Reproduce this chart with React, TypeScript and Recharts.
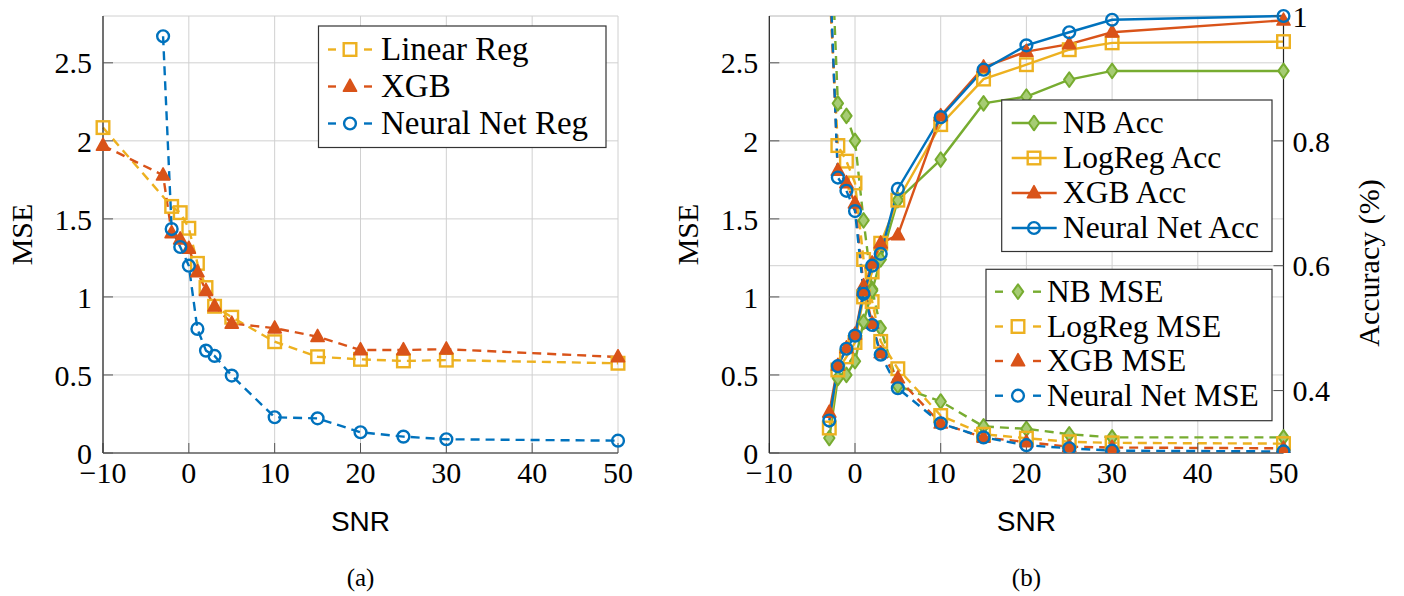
import React from 'react';
import { LineChart, Line, XAxis, YAxis, CartesianGrid, Legend, Label } from 'recharts';

const BLUE = '#0072BD';
const RED = '#D95319';
const YELLOW = '#EDB120';
const GREEN = '#77AC30';

const SERIF = '"Liberation Serif", "Times New Roman", serif';
const SANS = '"Liberation Sans", Arial, sans-serif';

// ---------- (a) regression MSE ----------
const snrLinearReg = [-10, -2, -1, 0, 1, 2, 3, 5, 10, 15, 20, 25, 30, 50];
const mseLinearReg = [2.085, 1.58, 1.54, 1.44, 1.215, 1.06, 0.94, 0.87, 0.713, 0.617, 0.6, 0.59, 0.595, 0.575];
const snrXgbReg = [-10, -3, -2, -1, 0, 1, 2, 3, 5, 10, 15, 20, 25, 30, 50];
const mseXgbReg = [1.97, 1.78, 1.41, 1.37, 1.31, 1.16, 1.04, 0.94, 0.83, 0.8, 0.745, 0.66, 0.66, 0.665, 0.615];
const snrNeuralReg = [-3, -2, -1, 0, 1, 2, 3, 5, 10, 15, 20, 25, 30, 50];
const mseNeuralReg = [2.67, 1.435, 1.32, 1.2, 0.795, 0.656, 0.622, 0.496, 0.229, 0.222, 0.133, 0.105, 0.088, 0.079];

// ---------- (b) classification ----------
const snrClass = [-3, -2, -1, 0, 1, 2, 3, 5, 10, 15, 20, 25, 30, 50];
const accNB = [0.324, 0.42, 0.425, 0.447, 0.51, 0.56, 0.61, 0.705, 0.77, 0.86, 0.871, 0.898, 0.912, 0.912];
const accLogReg = [0.34, 0.433, 0.454, 0.477, 0.55, 0.59, 0.636, 0.705, 0.826, 0.899, 0.922, 0.946, 0.957, 0.959];
const accXgb = [0.365, 0.44, 0.468, 0.49, 0.56, 0.604, 0.636, 0.649, 0.84, 0.918, 0.943, 0.955, 0.974, 0.993];
const accNeural = [0.352, 0.439, 0.467, 0.488, 0.555, 0.6, 0.619, 0.723, 0.838, 0.914, 0.953, 0.974, 0.994, 1.0];
const mseNB = [3.6, 2.24, 2.16, 2.0, 1.49, 1.05, 0.8, 0.43, 0.33, 0.17, 0.155, 0.12, 0.1, 0.1];
const mseLogReg = [3.0, 1.97, 1.87, 1.73, 1.24, 0.97, 0.715, 0.54, 0.24, 0.12, 0.095, 0.072, 0.065, 0.06];
const mseXgb = [3.1, 1.81, 1.73, 1.6, 1.07, 0.83, 0.64, 0.48, 0.19, 0.1, 0.07, 0.04, 0.035, 0.03];
const mseNeural = [3.2, 1.765, 1.68, 1.55, 1.03, 0.82, 0.63, 0.415, 0.19, 0.1, 0.05, 0.03, 0.015, 0.01];

// ---------- ticks ----------
const snrTicks = [-10, 0, 10, 20, 30, 40, 50];
const mseTicks = [0, 0.5, 1, 1.5, 2, 2.5];
const accTicks = [0.4, 0.6, 0.8, 1];

const toPoints = (xs: number[], ys: number[]) => xs.map((x, i) => ({ snr: x, v: ys[i] }));
const fmt = (v: number) => (v < 0 ? '\u2212' + Math.abs(v) : String(v));

type MarkerProps = { cx?: number; cy?: number; shape: string; color: string; r?: number; strokeWidth?: number };
const Marker = (p: MarkerProps) => {
  const { cx, cy, shape, color } = p;
  if (cx == null || cy == null || isNaN(cx) || isNaN(cy)) return null;
  const sw = 2.4;
  if (shape === 'square')
    return <rect x={cx - 6.3} y={cy - 6.3} width={12.6} height={12.6} fill="none" stroke={color} strokeWidth={sw} />;
  if (shape === 'circle') return <circle cx={cx} cy={cy} r={5.9} fill="none" stroke={color} strokeWidth={sw} />;
  if (shape === 'triangle')
    return (
      <polygon
        points={`${cx},${cy - 7.3} ${cx + 6.6},${cy + 4.7} ${cx - 6.6},${cy + 4.7}`}
        fill={color}
        stroke={color}
        strokeWidth={1.6}
        strokeLinejoin="round"
      />
    );
  return (
    <polygon
      points={`${cx},${cy - 7.3} ${cx + 5.2},${cy} ${cx},${cy + 7.3} ${cx - 5.2},${cy}`}
      fill="#a6cc74"
      stroke={color}
      strokeWidth={2}
      strokeLinejoin="round"
    />
  );
};

type Series = { name: string; xs: number[]; ys: number[]; color: string; shape: string; dashed: boolean; axis: string };

const seriesA: Series[] = [
  { name: 'Linear Reg', xs: snrLinearReg, ys: mseLinearReg, color: YELLOW, shape: 'square', dashed: true, axis: 'l' },
  { name: 'XGB', xs: snrXgbReg, ys: mseXgbReg, color: RED, shape: 'triangle', dashed: true, axis: 'l' },
  { name: 'Neural Net Reg', xs: snrNeuralReg, ys: mseNeuralReg, color: BLUE, shape: 'circle', dashed: true, axis: 'l' },
];

const seriesBAcc: Series[] = [
  { name: 'NB Acc', xs: snrClass, ys: accNB, color: GREEN, shape: 'diamond', dashed: false, axis: 'r' },
  { name: 'LogReg Acc', xs: snrClass, ys: accLogReg, color: YELLOW, shape: 'square', dashed: false, axis: 'r' },
  { name: 'XGB Acc', xs: snrClass, ys: accXgb, color: RED, shape: 'triangle', dashed: false, axis: 'r' },
  { name: 'Neural Net Acc', xs: snrClass, ys: accNeural, color: BLUE, shape: 'circle', dashed: false, axis: 'r' },
];
const seriesBMse: Series[] = [
  { name: 'NB MSE', xs: snrClass, ys: mseNB, color: GREEN, shape: 'diamond', dashed: true, axis: 'l' },
  { name: 'LogReg MSE', xs: snrClass, ys: mseLogReg, color: YELLOW, shape: 'square', dashed: true, axis: 'l' },
  { name: 'XGB MSE', xs: snrClass, ys: mseXgb, color: RED, shape: 'triangle', dashed: true, axis: 'l' },
  { name: 'Neural Net MSE', xs: snrClass, ys: mseNeural, color: BLUE, shape: 'circle', dashed: true, axis: 'l' },
];

const DASH = '9 6';

const renderLine = (s: Series) => (
  <Line
    key={s.name}
    name={s.name}
    data={toPoints(s.xs, s.ys)}
    dataKey="v"
    xAxisId="b"
    yAxisId={s.axis}
    type="linear"
    stroke={s.color}
    strokeWidth={2.4}
    strokeDasharray={s.dashed ? DASH : undefined}
    dot={<Marker shape={s.shape} color={s.color} r={8} strokeWidth={3} />}
    activeDot={false}
    isAnimationActive={false}
  />
);

type LegendSpec = {
  box: [number, number, number, number];
  rows: number[];
  lineX: [number, number];
  markX: number;
  textX: number;
  fontSize: number;
  items: Series[];
};

const LegendBoxes = ({ specs, w, h }: { specs: LegendSpec[]; w: number; h: number }) => (
  <svg width={w} height={h} style={{ position: 'absolute', left: 0, top: 0, overflow: 'visible' }}>
    {specs.map((sp, k) => {
      const [x0, y0, x1, y1] = sp.box;
      return (
        <g key={k}>
          <rect x={x0} y={y0} width={x1 - x0} height={y1 - y0} fill="#fff" stroke="#333" strokeWidth={1.2} />
          {sp.items.map((s, i) => {
            const y = sp.rows[i];
            const [lx0, lx1] = sp.lineX;
            return (
              <g key={s.name}>
                {s.dashed ? (
                  <g>
                    <line x1={lx0} y1={y} x2={lx0 + 8} y2={y} stroke={s.color} strokeWidth={2.4} />
                    <line x1={lx1 - 8} y1={y} x2={lx1} y2={y} stroke={s.color} strokeWidth={2.4} />
                  </g>
                ) : (
                  <line x1={lx0} y1={y} x2={lx1} y2={y} stroke={s.color} strokeWidth={2.4} />
                )}
                <Marker cx={sp.markX} cy={y} shape={s.shape} color={s.color} />
                <text x={sp.textX} y={y + sp.fontSize * 0.33} fontFamily={SERIF} fontSize={sp.fontSize} fill="#000">
                  {s.name}
                </text>
              </g>
            );
          })}
        </g>
      );
    })}
  </svg>
);

const tickStyle = { fontFamily: SERIF, fontSize: 30, fill: '#000' };
const axisLine = { stroke: '#222', strokeWidth: 1.2 };
const tickLine = { stroke: '#555', strokeWidth: 1 };
const GRID = '#d0d0d0';

const xAxes = (caption: string) => [
  <XAxis
    key="xb"
    xAxisId="b"
    dataKey="snr"
    type="number"
    domain={[-10, 50]}
    ticks={snrTicks}
    interval={0}
    height={30}
    tickSize={-10}
    tickMargin={19}
    tick={tickStyle}
    tickFormatter={fmt}
    axisLine={axisLine}
    tickLine={tickLine}
  >
    <Label
      content={(props: any) => {
        const vb = props.viewBox;
        const cx = vb.x + vb.width / 2;
        return (
          <g>
            <text x={cx} y={vb.y + 78} textAnchor="middle" fontFamily={SANS} fontSize={28} fill="#000">
              SNR
            </text>
            <text x={cx} y={vb.y + 133} textAnchor="middle" fontFamily={SERIF} fontSize={25} fill="#000">
              {caption}
            </text>
          </g>
        );
      }}
    />
  </XAxis>,
  <XAxis
    key="xt"
    xAxisId="t"
    orientation="top"
    type="number"
    domain={[-10, 50]}
    ticks={snrTicks}
    interval={0}
    height={0}
    tickSize={-10}
    tick={false}
    axisLine={axisLine}
    tickLine={tickLine}
  />,
];

const yLabel = (text: string, dx: number, cy: number) => (
  <Label
    content={(props: any) => {
      const vb = props.viewBox;
      const x = vb.x + dx;
      const y = cy;
      return (
        <text
          x={x}
          y={y}
          transform={`rotate(-90, ${x}, ${y})`}
          textAnchor="middle"
          fontFamily={SERIF}
          fontSize={30}
          fill="#000"
        >
          {text}
        </text>
      );
    }}
  />
);

const ChartA = () => (
  <LineChart width={660} height={596} margin={{ top: 16, right: 42, bottom: 113, left: 43 }}>
    <CartesianGrid xAxisId="b" yAxisId="l" stroke={GRID} strokeWidth={1} />
    {xAxes('(a)')}
    <YAxis
      yAxisId="l"
      type="number"
      domain={[0, 2.8]}
      ticks={mseTicks}
      interval={0}
      width={60}
      tickSize={-10}
      tickMargin={21}
      tick={tickStyle}
      axisLine={axisLine}
      tickLine={tickLine}
    >
      {yLabel('MSE', -11, 234.5)}
    </YAxis>
    <YAxis
      yAxisId="r"
      orientation="right"
      type="number"
      domain={[0, 2.8]}
      ticks={mseTicks}
      interval={0}
      width={0}
      tickSize={-10}
      tick={false}
      axisLine={axisLine}
      tickLine={tickLine}
    />
    {seriesA.map(renderLine)}
    <Legend
      layout="vertical"
      align="center"
      verticalAlign="middle"
      wrapperStyle={{ left: 0, top: 0, width: 660, height: 596, pointerEvents: 'none' }}
      content={() => (
        <LegendBoxes
          w={660}
          h={596}
          specs={[
            {
              box: [318.5, 26, 606, 147.5],
              rows: [49.5, 86.5, 123.5],
              lineX: [328, 372],
              markX: 350,
              textX: 381,
              fontSize: 33,
              items: seriesA,
            },
          ]}
        />
      )}
    />
  </LineChart>
);

const OFF_B = 660;
const ChartB = () => (
  <LineChart width={744} height={596} margin={{ top: 16, right: 40.5, bottom: 113, left: 39.3 }}>
    <CartesianGrid xAxisId="b" yAxisId="l" stroke={GRID} strokeWidth={1} />
    <CartesianGrid xAxisId="b" yAxisId="r" vertical={false} stroke={GRID} strokeWidth={1} />
    {xAxes('(b)')}
    <YAxis
      yAxisId="l"
      type="number"
      domain={[0, 2.8]}
      allowDataOverflow
      ticks={mseTicks}
      interval={0}
      width={70}
      tickSize={-10}
      tickMargin={21}
      tick={tickStyle}
      axisLine={axisLine}
      tickLine={tickLine}
    >
      {yLabel('MSE', -1.3, 234.5)}
    </YAxis>
    <YAxis
      yAxisId="r"
      orientation="right"
      type="number"
      domain={[0.3, 1]}
      ticks={accTicks}
      interval={0}
      width={80}
      tickSize={-10}
      tickMargin={19}
      tick={tickStyle}
      axisLine={axisLine}
      tickLine={tickLine}
    >
      {yLabel('Accuracy (%)', 95.5, 263)}
    </YAxis>
    {seriesBMse.map(renderLine)}
    {seriesBAcc.map(renderLine)}
    <Legend
      layout="vertical"
      align="center"
      verticalAlign="middle"
      wrapperStyle={{ left: 0, top: 0, width: 744, height: 596, pointerEvents: 'none' }}
      content={() => (
        <LegendBoxes
          w={744}
          h={596}
          specs={[
            {
              box: [1001.7 - OFF_B, 100, 1272 - OFF_B, 251.5],
              rows: [123, 158, 193, 228],
              lineX: [1011.7 - OFF_B, 1056.7 - OFF_B],
              markX: 1034 - OFF_B,
              textX: 1063 - OFF_B,
              fontSize: 31.5,
              items: seriesBAcc,
            },
            {
              box: [986 - OFF_B, 269.3, 1272 - OFF_B, 420.7],
              rows: [291.7, 326.5, 361, 395.7],
              lineX: [995 - OFF_B, 1041 - OFF_B],
              markX: 1018 - OFF_B,
              textX: 1047 - OFF_B,
              fontSize: 31.5,
              items: seriesBMse,
            },
          ]}
        />
      )}
    />
  </LineChart>
);

export default function App() {
  return (
    <div style={{ position: 'absolute', left: 0, top: 0, width: 1404, height: 596, background: '#fff' }}>
      <div style={{ position: 'absolute', left: 0, top: 0 }}>
        <ChartA />
      </div>
      <div style={{ position: 'absolute', left: OFF_B, top: 0 }}>
        <ChartB />
      </div>
    </div>
  );
}
